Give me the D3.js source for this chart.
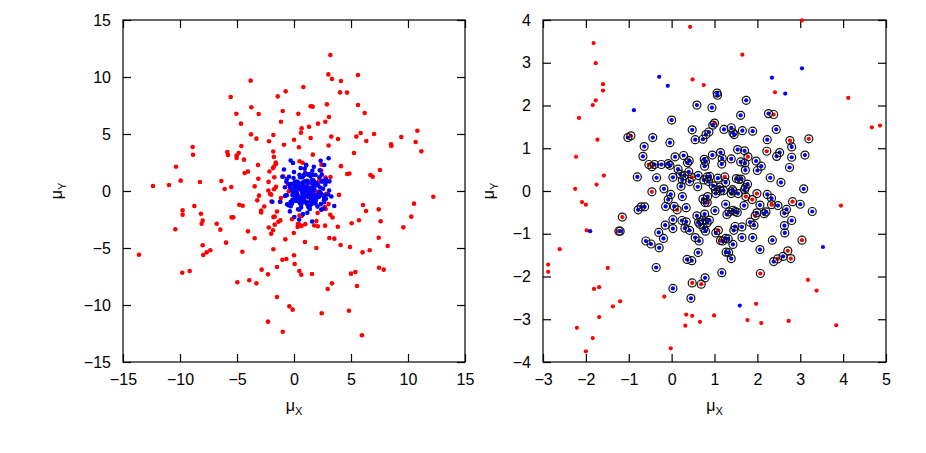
<!DOCTYPE html>
<html>
<head>
<meta charset="utf-8">
<script src="https://cdn.jsdelivr.net/npm/d3@7"></script>
<style>
  body { margin: 0; background: #fff; }
  svg { display: block; font-family: "Liberation Sans", Arial, sans-serif; }
</style>
</head>
<body>
<svg id="chart" width="926" height="453"></svg>
<script>
// red points far from the centre (only visible in the wide panel)
const redOuter = [
  [-3.80,9.68],[-5.55,8.25],[-1.43,8.30],[-0.73,8.74],[-3.74,7.34],[-5.06,6.78],[-3.10,6.75],[-0.99,7.02],
  [-4.65,5.91],[-1.14,6.08],[-3.77,4.97],[-1.81,4.91],[-3.30,4.59],[-2.19,4.36],[0.00,4.50],[-0.88,4.06],
  [-4.62,3.95],[-8.89,3.86],[-8.86,3.18],[-5.85,3.42],[-5.79,3.16],[-4.85,3.33],[-5.03,3.10],[-5.03,2.89],
  [-4.39,2.75],[-10.35,2.13],[-3.16,2.28],[-4.04,1.70],[-4.33,1.58],[-3.13,1.08],[-9.94,0.91],[-8.25,0.79],
  [-6.37,0.88],[-12.37,0.44],[-10.96,0.53],[-6.08,0.18],[-5.50,0.35],[-3.45,0.41],
  [3.19,11.93],[3.01,10.23],[3.33,9.82],[5.61,10.18],[4.12,9.65],[0.82,9.12],[4.04,8.65],[4.65,8.63],
  [1.46,7.43],[1.64,7.40],[2.89,7.60],[5.61,7.54],[0.38,6.78],[6.20,6.84],[3.07,6.49],[2.75,6.08],
  [2.11,5.91],[1.32,5.64],[0.67,5.50],[0.61,5.12],[5.85,5.09],[7.02,5.00],[10.82,5.29],[3.27,4.77],
  [5.47,4.77],[9.41,4.74],[1.46,4.65],[3.86,4.56],[6.34,4.39],[10.67,4.30],[8.51,4.09],[8.54,3.95],
  [11.17,3.48],[5.26,3.33],[7.54,1.84],[6.70,1.40],[6.90,1.26],
  [-8.74,-1.32],[-9.77,-1.70],[-9.77,-2.08],[-8.16,-1.99],[-8.01,-2.60],[-8.10,-2.87],[-10.41,-3.36],
  [-6.78,-2.87],[-6.46,-3.39],[-5.47,-2.31],[-5.32,-2.31],[-4.80,-1.20],[-4.50,-1.29],[-5.96,-4.53],
  [-8.01,-4.76],[-7.96,-5.61],[-7.66,-5.38],[-7.34,-5.20],[-13.60,-5.59],[-9.80,-7.17],[-9.15,-7.02],
  [-4.53,-5.33],[-4.04,-3.54],[-3.45,-4.15],[-4.97,-8.01],[-3.92,-7.83],[-3.30,-8.10],[-2.84,-6.90],
  [-2.28,-7.31],[-1.49,-6.67],[-1.81,-5.11],[-1.02,-6.03],[-0.67,-5.97],[0.00,-5.64],[0.06,-6.40],
  [-0.76,-4.24],[-1.49,-9.30],[-0.41,-10.12],[-0.12,-10.41],[-2.28,-11.46],[-0.99,-12.34],
  [-3.22,-0.82],[-3.07,-0.41],
  [12.22,-0.50],[10.53,-1.11],[6.05,-1.23],[6.32,-1.75],[7.43,-1.61],[10.29,-2.25],[5.70,-2.57],
  [5.06,-2.83],[7.60,-2.66],[9.59,-3.19],[3.10,-4.12],[3.54,-4.18],[7.43,-4.10],[0.96,-4.47],
  [4.09,-4.74],[4.91,-4.91],[1.96,-5.00],[8.22,-4.82],[6.64,-5.20],[6.02,-5.38],[0.47,-7.02],
  [0.64,-7.34],[1.58,-7.28],[5.00,-7.25],[5.38,-7.11],[7.46,-6.73],[7.87,-6.90],[3.33,-8.10],
  [2.96,-8.60],[5.53,-8.33],[2.43,-10.73],[4.82,-10.50],[5.96,-12.66]
];

// red points near the centre, not marked
const redInner = [
  [-1.82,3.46],[-1.77,2.99],[-1.60,2.50],[-1.60,2.35],[-1.77,2.12],[-1.84,2.01],[-2.16,1.71],[-1.73,1.20],
  [-2.23,0.80],[-1.58,0.36],[-1.75,0.15],[-2.25,0.05],[0.43,3.84],[1.65,3.19],[0.49,2.61],[0.75,2.48],
  [2.41,2.31],[3.04,3.99],[4.12,2.18],[4.67,1.49],[4.86,1.53],[-2.09,-0.26],[-2.00,-0.32],[-1.98,-0.92],
  [-2.61,-1.36],[-2.88,-1.72],[-2.88,-1.89],[-1.49,-1.80],[-1.81,-2.29],[-1.69,-2.25],[-1.37,-2.70],
  [-1.20,-2.58],[-1.69,-2.95],[-2.21,-3.20],[-1.84,-3.44],[-2.00,-3.75],[-0.17,-2.47],[0.34,-2.89],
  [0.48,-2.92],[0.32,-3.15],[0.66,-3.06],[0.99,-2.91],[1.97,-2.64],[1.77,-3.02],[2.09,-3.09],
  [-0.02,-3.68],[3.95,-0.34],[3.18,-2.08],[3.38,-2.33],[2.73,-3.04],[3.84,-3.14]
];

// red points marked with a circle
const redMarked = [
  [-0.95,1.29],[-0.46,-0.02],[-0.53,0.62],[-0.46,0.57],[1.00,1.59],[2.38,1.79],[2.22,0.93],[1.78,0.80],
  [0.47,0.32],[1.24,0.33],[2.76,1.18],[3.20,1.22],[-1.15,-0.61],[-1.23,-0.94],[0.13,-0.44],[1.73,-0.13],
  [1.88,-0.20],[1.99,-0.06],[2.33,-0.32],[1.09,-0.92],[1.14,-1.16],[2.07,-1.93],[0.48,-2.15],[0.69,-2.18],
  [0.83,-0.27],[1.95,-0.58],[2.82,-0.25],[3.04,-1.15],[2.71,-1.40],[2.78,-1.58],[2.47,-1.59]
];

// blue points, not marked
const blueInner = [
  [-0.29,2.67],[-0.88,1.89],[-0.09,2.46],[2.34,2.65],[3.04,2.87],[2.65,2.28],[-1.90,-0.94],[1.59,-2.68],[3.53,-1.31]
];

// blue points marked with a circle
const blueMarked = [
  [-1.02,1.25],[-0.44,1.25],[-0.64,1.04],[-0.67,0.81],[-0.40,0.62],[-0.80,0.33],[-0.35,0.31],
  [1.06,2.29],[1.07,2.24],[0.59,2.01],[0.94,1.95],[1.74,2.12],[1.61,1.77],[0.00,1.66],[2.26,1.81],
  [0.96,1.54],[0.48,1.43],[0.87,1.38],[0.80,1.32],[1.22,1.44],[1.39,1.48],[1.43,1.36],[1.46,1.32],
  [1.65,1.41],[1.89,1.40],[0.55,1.20],[0.73,1.21],[-0.04,1.13],[2.23,1.20],[1.54,0.97],[1.70,0.94],
  [1.14,0.90],[0.95,0.84],[1.18,0.76],[1.39,0.75],[0.28,0.83],[0.08,0.80],[0.41,0.71],[0.37,0.66],
  [0.76,0.74],[0.79,0.69],[0.77,0.58],[-0.24,0.62],[-0.08,0.64],[-0.04,0.60],[1.61,0.68],[1.71,0.65],
  [1.97,0.70],[1.17,0.63],[2.09,0.58],[1.72,0.49],[2.00,0.48],[0.15,0.51],[0.40,0.45],[0.20,0.39],
  [0.30,0.36],[0.03,0.32],[0.42,0.22],[0.25,0.26],[0.62,0.36],[0.83,0.33],[0.89,0.34],[1.26,0.20],
  [0.75,0.26],[0.86,0.22],[1.08,0.30],[1.51,0.29],[1.57,0.27],[1.62,0.28],[2.30,0.31],[-0.18,0.05],
  [0.22,0.11],[0.61,0.10],[0.97,0.12],[1.12,0.09],[1.42,0.03],[1.72,0.08],[1.77,0.16],[1.21,0.01],
  [1.02,0.03],
  [2.44,1.44],[2.80,1.03],[2.52,0.90],[2.45,0.81],[2.80,0.79],[3.11,0.84],[2.75,0.55],[2.55,0.20],[3.08,0.05],
  [-1.20,-0.94],[-0.78,-0.44],[-0.71,-0.37],[-0.63,-0.37],[-0.60,-1.17],[-0.48,-1.24],[-0.30,-0.97],
  [-0.36,-1.79],[-0.29,-1.33],
  [-0.02,-0.08],[-0.08,-0.20],[0.25,-0.13],[0.73,-0.19],[0.78,-0.27],[0.84,-0.13],[1.03,-0.06],[1.14,0.00],
  [1.26,-0.31],[1.39,-0.06],[1.43,0.00],[1.55,-0.06],[1.70,0.03],[2.23,-0.08],[2.33,-0.17],[-0.14,-0.36],
  [0.06,-0.36],[0.34,-0.39],[1.01,-0.46],[1.29,-0.55],[1.34,-0.49],[1.43,-0.45],[1.48,-0.48],[1.53,-0.50],
  [1.69,-0.34],[2.06,-0.33],[2.20,-0.49],[2.16,-0.53],[1.99,-0.51],[0.59,-0.58],[0.77,-0.54],[0.73,-0.68],
  [0.83,-0.74],[0.63,-0.73],[0.66,-0.78],[0.88,-0.68],[0.75,-0.87],[0.79,-0.94],[0.03,-0.67],[0.24,-0.69],
  [0.34,-0.72],[-0.15,-0.80],[0.03,-0.88],[0.31,-0.87],[0.42,-0.92],[-0.19,-1.11],[0.55,-1.09],[0.64,-1.17],
  [1.03,-0.98],[1.26,-1.11],[1.32,-1.12],[1.19,-1.17],[1.45,-0.92],[1.48,-0.83],[1.64,-0.84],[1.64,-1.09],
  [1.89,-1.09],[1.83,-0.73],[1.92,-0.80],[2.06,-1.37],[2.35,-1.15],[1.27,-1.43],[1.33,-1.44],[1.39,-1.58],
  [1.43,-1.25],[0.62,-1.44],[0.36,-1.60],[0.47,-1.63],[1.17,-1.91],[0.78,-2.03],[0.03,-2.28],[0.45,-2.51],
  [2.48,-0.34],[3.00,-0.31],[2.68,-0.43],[2.63,-0.52],[3.28,-0.48],[2.80,-0.69],[2.63,-0.81],[2.64,-0.98],
  [2.60,-1.53],[2.38,-1.65]
];

const wideTicks = [-15, -10, -5, 0, 5, 10, 15];
const zoomXTicks = [-3, -2, -1, 0, 1, 2, 3, 4, 5];
const zoomYTicks = [-4, -3, -2, -1, 0, 1, 2, 3, 4];

const redAll = redOuter.concat(redInner, redMarked);
const blueAll = blueInner.concat(blueMarked);
const marked = redMarked.concat(blueMarked);

const svg = d3.select("#chart");
const tick = 8;

const panels = [
  { left: 123, right: 465, top: 20, bottom: 362, xDomain: [-15, 15], yDomain: [-15, 15],
    xTicks: wideTicks, yTicks: wideTicks, yTitleX: 62, dot: 2.3, rings: false },
  { left: 543, right: 886, top: 20, bottom: 362, xDomain: [-3, 5], yDomain: [-4, 4],
    xTicks: zoomXTicks, yTicks: zoomYTicks, yTitleX: 494, dot: 2.1, rings: true }
];

panels.forEach(p => {
  const x = d3.scaleLinear().domain(p.xDomain).range([p.left, p.right]);
  const y = d3.scaleLinear().domain(p.yDomain).range([p.bottom, p.top]);
  const inside = d => d[0] >= p.xDomain[0] && d[0] <= p.xDomain[1] && d[1] >= p.yDomain[0] && d[1] <= p.yDomain[1];

  const g = svg.append("g");

  // axes, ticks pointing inwards, mirrored on top / right
  g.append("g").attr("transform", `translate(0,${p.bottom})`)
    .call(d3.axisBottom(x).tickValues(p.xTicks).tickSize(-tick).tickSizeOuter(0).tickPadding(12))
    .call(a => a.select(".domain").remove());
  g.append("g").attr("transform", `translate(0,${p.top})`)
    .call(d3.axisTop(x).tickValues(p.xTicks).tickSize(-tick).tickSizeOuter(0).tickFormat(""))
    .call(a => a.select(".domain").remove());
  g.append("g").attr("transform", `translate(${p.left},0)`)
    .call(d3.axisLeft(y).tickValues(p.yTicks).tickSize(-tick).tickSizeOuter(0).tickPadding(12))
    .call(a => a.select(".domain").remove());
  g.append("g").attr("transform", `translate(${p.right},0)`)
    .call(d3.axisRight(y).tickValues(p.yTicks).tickSize(-tick).tickSizeOuter(0).tickFormat(""))
    .call(a => a.select(".domain").remove());

  g.selectAll(".tick line").attr("stroke", "#000").attr("stroke-width", 1.2);
  g.selectAll(".tick text").attr("fill", "#000").style("font-size", "16px")
    .style("font-family", '"Liberation Sans", Arial, sans-serif');

  g.append("rect")
    .attr("x", p.left).attr("y", p.top)
    .attr("width", p.right - p.left).attr("height", p.bottom - p.top)
    .attr("fill", "none").attr("stroke", "#000").attr("stroke-width", 1.2);

  g.append("g").selectAll("circle").data(redAll.filter(inside)).join("circle")
    .attr("cx", d => x(d[0])).attr("cy", d => y(d[1])).attr("r", p.dot).attr("fill", "#ff0000");

  g.append("g").selectAll("circle").data(blueAll.filter(inside)).join("circle")
    .attr("cx", d => x(d[0])).attr("cy", d => y(d[1])).attr("r", p.dot).attr("fill", "#0000ff");

  if (p.rings) {
    g.append("g").selectAll("circle").data(marked.filter(inside)).join("circle")
      .attr("cx", d => x(d[0])).attr("cy", d => y(d[1])).attr("r", 4)
      .attr("fill", "none").attr("stroke", "#111").attr("stroke-width", 1.2);
  }

  // axis titles
  const xt = g.append("text")
    .attr("x", (p.left + p.right) / 2).attr("y", 411)
    .attr("text-anchor", "middle").style("font-size", "16px");
  xt.append("tspan").text("μ");
  xt.append("tspan").attr("dy", 4).style("font-size", "11px").text("X");

  const yt = g.append("text")
    .attr("transform", `translate(${p.yTitleX},${(p.top + p.bottom) / 2}) rotate(-90)`)
    .attr("text-anchor", "middle").style("font-size", "16px");
  yt.append("tspan").text("μ");
  yt.append("tspan").attr("dy", 4).style("font-size", "11px").text("Y");
});
</script>
</body>
</html>
